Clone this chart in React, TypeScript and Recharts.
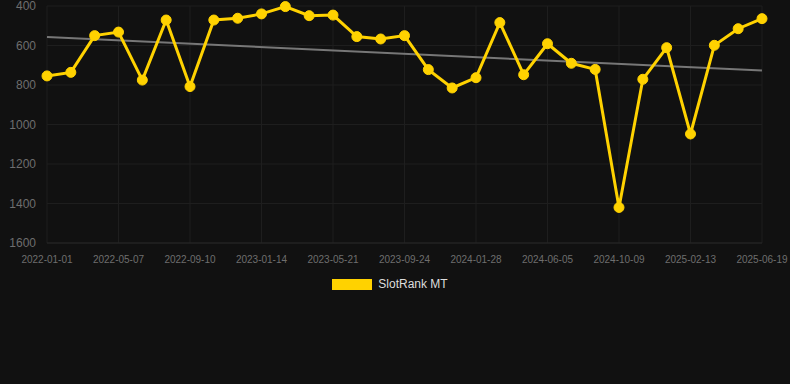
import React from "react";
import { LineChart, Line, XAxis, YAxis, CartesianGrid, Legend } from "recharts";

const dates = [
  "2022-01-01", "2022-02-12", "2022-03-26", "2022-05-07", "2022-06-18", "2022-07-30",
  "2022-09-10", "2022-10-22", "2022-12-03", "2023-01-14", "2023-02-25", "2023-04-08",
  "2023-05-21", "2023-07-02", "2023-08-13", "2023-09-24", "2023-11-05", "2023-12-17",
  "2024-01-28", "2024-03-10", "2024-04-24", "2024-06-05", "2024-07-17", "2024-08-28",
  "2024-10-09", "2024-11-20", "2025-01-01", "2025-02-13", "2025-03-27", "2025-05-08",
  "2025-06-19",
];

const slotRankMT = [
  754, 736, 550, 532, 775, 471, 808, 471, 462, 440, 403, 449, 446, 555, 567, 550,
  722, 815, 763, 484, 748, 591, 690, 721, 1420, 771, 611, 1048, 599, 515, 464,
];

const trendStart = 557;
const trendEnd = 727;

const yTicks = [400, 600, 800, 1000, 1200, 1400, 1600];

const data = dates.map((d, i) => ({
  date: d,
  rank: slotRankMT[i],
  trend: i === 0 ? trendStart : i === dates.length - 1 ? trendEnd : null,
}));

const FONT = "'Liberation Sans', Arial, Helvetica, sans-serif";

const LegendContent = () => (
  <div
    style={{
      display: "flex",
      justifyContent: "center",
      alignItems: "center",
      fontFamily: FONT,
      fontSize: 12,
      color: "#dddddd",
    }}
  >
    <span
      style={{
        display: "inline-block",
        width: 40,
        height: 11,
        background: "#FFD200",
        marginRight: 6,
      }}
    />
    <span>SlotRank MT</span>
  </div>
);

export default function App() {
  return (
    <div
      style={{
        position: "absolute",
        left: 0,
        top: 0,
        width: 790,
        height: 384,
        background: "#111111",
      }}
    >
      <LineChart
        width={790}
        height={384}
        data={data}
        margin={{ top: 6, right: 28, left: 0, bottom: 111 }}
      >
        <CartesianGrid stroke="#1e1e1e" strokeWidth={1} />
        <XAxis
          dataKey="date"
          interval={2}
          tickLine={false}
          tickSize={0}
          tickMargin={13}
          axisLine={{ stroke: "#262626" }}
          tick={{ fill: "#6e6e6e", fontSize: 10, fontFamily: FONT }}
        />
        <YAxis
          width={47}
          reversed
          domain={[400, 1600]}
          ticks={yTicks}
          interval={0}
          tickLine={false}
          tickSize={0}
          tickMargin={11}
          axisLine={false}
          tick={{ fill: "#6e6e6e", fontSize: 12, fontFamily: FONT }}
        />
        <Legend
          verticalAlign="middle"
          wrapperStyle={{ top: 277, left: -5, width: 790 }}
          content={<LegendContent />}
        />
        <Line
          dataKey="trend"
          stroke="#777777"
          strokeWidth={2}
          dot={false}
          activeDot={false}
          connectNulls
          legendType="none"
          isAnimationActive={false}
        />
        <Line
          dataKey="rank"
          name="SlotRank MT"
          stroke="#FFD200"
          strokeWidth={3}
          dot={{ r: 5, fill: "#FFD200", stroke: "#FFD200", strokeWidth: 1 }}
          activeDot={false}
          isAnimationActive={false}
        />
      </LineChart>
    </div>
  );
}
